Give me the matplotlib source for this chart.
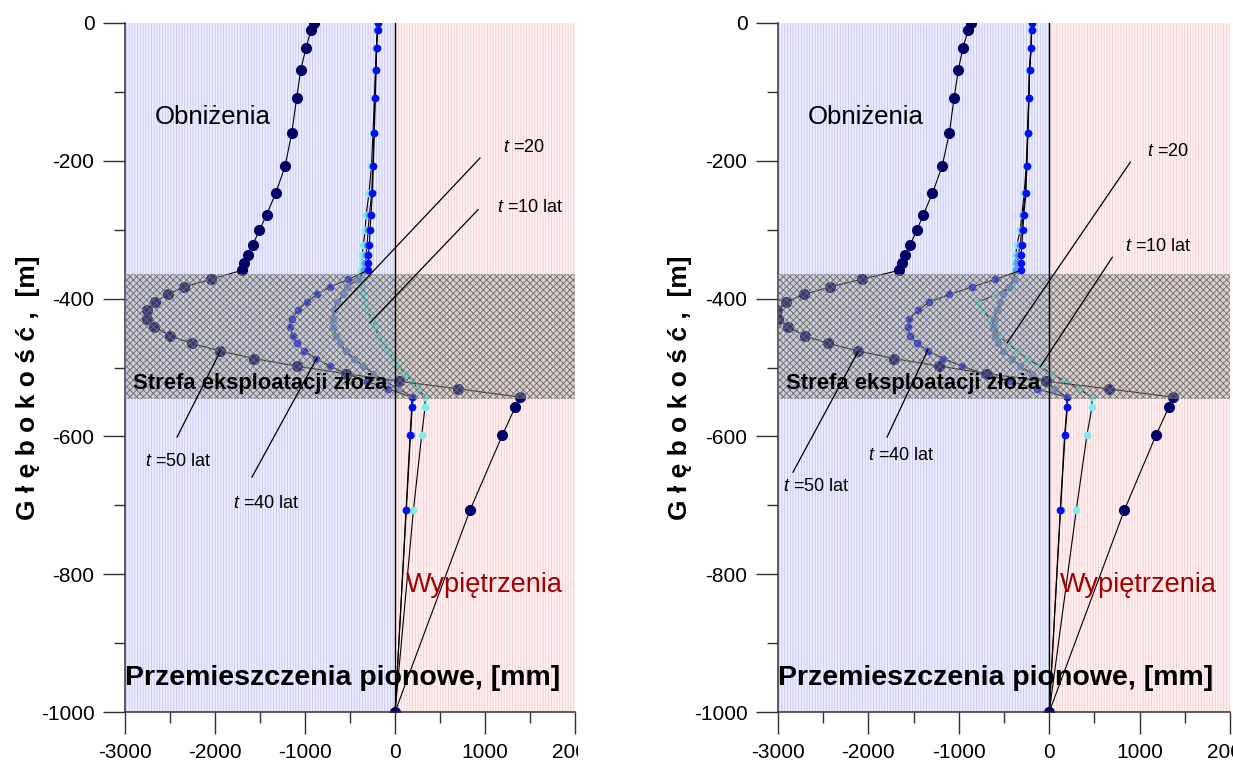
import matplotlib
matplotlib.use("Agg")
import matplotlib.pyplot as plt
from matplotlib.patches import Rectangle
from matplotlib.ticker import MultipleLocator

plt.rcParams['font.family'] = ['Liberation Sans', 'DejaVu Sans']
plt.rcParams['axes.unicode_minus'] = False
plt.rcParams['mathtext.fontset'] = 'custom'
plt.rcParams['mathtext.it'] = 'Liberation Sans:italic'
plt.rcParams['mathtext.rm'] = 'Liberation Sans'
plt.rcParams['hatch.linewidth'] = 0.6

# depth of the nodes [m]
depth = [0, -10, -36, -68, -109, -160, -208, -247, -278, -301, -322, -336, -349, -359,
         -372, -383, -394, -405, -417, -429, -441, -454, -465, -476, -487, -498, -509, -520, -531, -543,
         -558, -598, -707, -1000]

# left panel, vertical displacement [mm]
left_t50 = [-895, -933, -989, -1048, -1093, -1148, -1222, -1326, -1426, -1508, -1581, -1637, -1678, -1703,
            -2048, -2341, -2526, -2667, -2759, -2759, -2674, -2500, -2259, -1944, -1563, -1093, -548, 44, 704, 1389,
            1333, 1193, 833, 0]
left_t40 = [-185, -193, -204, -211, -219, -230, -241, -252, -267, -278, -285, -296, -296, -304,
            -519, -722, -870, -981, -1081, -1148, -1167, -1137, -1093, -1007, -878, -722, -537, -315, -74, 185,
            185, 167, 122, 0]
left_t20 = [-188, -196, -207, -214, -223, -235, -247, -260, -285, -300, -310, -322, -330, -340,
            -407, -537, -574, -641, -678, -692, -689, -655, -611, -548, -456, -352, -241, -111, 37, 204,
            190, 172, 125, 0]
left_t10 = [-187, -195, -208, -218, -230, -245, -262, -290, -320, -333, -352, -363, -370, -375,
            -370, -370, -352, -333, -308, -259, -222, -185, -130, -74, -19, 37, 111, 185, 259, 333,
            333, 296, 204, 0]

# right panel, vertical displacement [mm]
right_t50 = [-867, -894, -956, -1005, -1053, -1105, -1185, -1292, -1392, -1466, -1539, -1595, -1632, -1661,
             -2075, -2425, -2710, -2912, -3008, -2997, -2894, -2702, -2444, -2115, -1715, -1218, -685, -33, 657, 1370,
             1321, 1182, 831, 0]
right_t40 = [-192, -195, -199, -217, -224, -236, -247, -258, -280, -292, -303, -310, -314, -314,
             -598, -849, -1107, -1325, -1454, -1547, -1565, -1539, -1460, -1336, -1170, -967, -727, -432, -136, 196,
             196, 170, 122, 0]
right_t20 = [-192, -195, -200, -218, -226, -238, -250, -265, -290, -305, -322, -340, -355, -370,
             -395, -450, -506, -543, -579, -616, -627, -598, -565, -506, -414, -321, -192, -63, 66, 196,
             200, 175, 125, 0]
right_t10 = [-194, -197, -203, -220, -228, -240, -255, -277, -303, -321, -358, -369, -380, -384,
             -395, -413, -598, -783, -746, -653, -605, -561, -457, -358, -247, -107, 30, 177, 325, 472,
             472, 417, 299, 0]

zone_top, zone_bottom = -364, -546
x_min, x_max = -3000, 2000
y_min, y_max = -1000, 0

navy, blue, corn, cyan = '#000066', '#0010F0', '#6B93E8', '#7FEDED'


def draw_panel(ax, t50, t40, t20, t10, notes):
    ax.add_patch(Rectangle((x_min, y_min), -x_min, y_max - y_min, facecolor='#EEEEFF',
                           edgecolor='#C4C4F2', hatch='||||||', lw=0, zorder=0))
    ax.add_patch(Rectangle((0, y_min), x_max, y_max - y_min, facecolor='#FFF2F2',
                           edgecolor='#F4CCCC', hatch='||||||', lw=0, zorder=0))

    for xs, c, ms in [(t10, cyan, 4.5), (t20, corn, 4.5), (t40, blue, 4.5), (t50, navy, 7)]:
        ax.plot(xs, depth, '-', color='black', lw=0.8, marker='o', ms=ms,
                mfc=c, mec=c, zorder=2)

    ax.add_patch(Rectangle((x_min, zone_bottom), x_max - x_min, zone_top - zone_bottom,
                           facecolor=(0.62, 0.62, 0.62, 0.35), edgecolor='#6A6A6A',
                           hatch='xxxxx', lw=0, zorder=3))
    ax.axvline(0, color='black', lw=1, zorder=4)

    for (x0, y0, x1, y1), (tx, ty, lab) in notes:
        ax.plot([x0, x1], [y0, y1], color='black', lw=0.9, zorder=5)
        ax.text(tx, ty, lab, fontsize=13, ha='left', va='center', zorder=6)

    ax.text(-2670, -137, 'Obniżenia', fontsize=18.5, ha='left', va='center', zorder=6)
    ax.text(120, -816, 'Wypiętrzenia', fontsize=19.5, color='#A00000', ha='left', va='center', zorder=6)
    ax.text(0.018, 0.477, 'Strefa eksploatacji złoża', transform=ax.transAxes, fontsize=15.8,
            fontweight='bold', ha='left', va='center', zorder=6)
    ax.text(0.0, 0.049, 'Przemieszczenia pionowe, [mm]', transform=ax.transAxes, fontsize=20.5,
            fontweight='bold', ha='left', va='center', zorder=6)

    ax.set_xlim(x_min, x_max)
    ax.set_ylim(y_min, y_max)
    ax.xaxis.set_major_locator(MultipleLocator(1000))
    ax.xaxis.set_minor_locator(MultipleLocator(500))
    ax.yaxis.set_major_locator(MultipleLocator(200))
    ax.yaxis.set_minor_locator(MultipleLocator(100))
    ax.tick_params(which='major', length=16, width=1, labelsize=15, pad=6, color='#303030')
    ax.tick_params(which='minor', length=8, width=1, color='#303030')
    for s in ['top', 'right']:
        ax.spines[s].set_visible(False)
    for s in ['left', 'bottom']:
        ax.spines[s].set_linewidth(1.1)
        ax.spines[s].set_color('#303030')
    ax.set_ylabel('G ł ę b o k o ś ć ,  [m]', fontsize=19, fontweight='bold')
    ax.yaxis.set_label_coords(-0.19, 0.47)


fig = plt.figure(figsize=(12.33, 7.69), dpi=100)
ax1 = fig.add_axes([0.1014, 0.0741, 0.3650, 0.8960])
ax2 = fig.add_axes([0.6310, 0.0741, 0.3666, 0.8960])

draw_panel(ax1, left_t50, left_t40, left_t20, left_t10, [
    ((944, -196, -667, -419), (1200, -181, r'$t$ =20')),
    ((922, -271, -278, -435), (1133, -268, r'$t$ =10 lat')),
    ((-2422, -601, -1944, -477), (-2778, -637, r'$t$ =50 lat')),
    ((-1589, -659, -867, -486), (-1800, -697, r'$t$ =40 lat')),
])
draw_panel(ax2, right_t50, right_t40, right_t20, right_t10, [
    ((897, -202, -465, -464), (1085, -187, r'$t$ =20')),
    ((698, -340, -100, -499), (842, -325, r'$t$ =10 lat')),
    ((-2835, -652, -2115, -477), (-2946, -673, r'$t$ =50 lat')),
    ((-1794, -601, -1340, -474), (-2004, -627, r'$t$ =40 lat')),
])

# the left picture is cut just after its last tick
fig.add_artist(Rectangle((578 / 1233, 0), 60 / 1233, 0.06, transform=fig.transFigure,
                         facecolor='white', edgecolor='none', zorder=10))

fig.savefig('out.png', dpi=100)
